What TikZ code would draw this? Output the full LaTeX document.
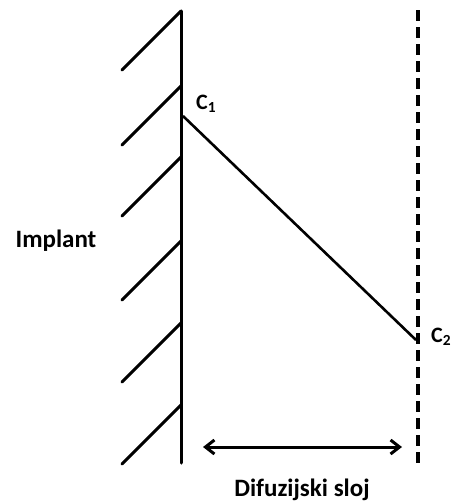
\documentclass[tikz,border=0pt]{standalone}
\usepackage{fontspec}
\setmainfont{Carlito}
\usetikzlibrary{arrows.meta}
\begin{document}
\begin{tikzpicture}[x=1pt,y=-1pt,
  wall/.style={line width=3pt,line cap=round},
  hatch/.style={line width=3pt,line cap=round},
  lbl/.style={font=\fontsize{25}{30}\selectfont\bfseries,inner sep=0pt},
  lblc/.style={font=\fontsize{22}{26}\selectfont\bfseries,inner sep=0pt}]
\useasboundingbox (0,0) rectangle (456,504);
\coordinate (wtop) at (181,11);
\coordinate (wbot) at (181,463);
\draw[wall] (wtop) -- (wbot);
\foreach \y [count=\i] in {11,86,157,241,323,405}{
  \coordinate (h\i a) at (181,\y);
  \coordinate (h\i b) at (122,\y+59);
  \draw[hatch] (h\i a) -- (h\i b);
}
\coordinate (c1p) at (183,116);
\coordinate (c2p) at (416,340);
\draw[line width=2.6pt] (c1p) -- (c2p);
\coordinate (dtop) at (418,10);
\coordinate (dbot) at (418,466);
\draw[line width=3.2pt,dash pattern=on 11pt off 6pt] (dtop) -- (dbot);
\coordinate (aL) at (203,447);
\coordinate (aR) at (402,447);
\draw[line width=3pt,{Straight Barb[length=9pt,width=14pt]}-{Straight Barb[length=9pt,width=14pt]}] (aL) -- (aR);
\node[lblc,anchor=west] (c1) at (196,104) {C\textsubscript{1}};
\node[lblc,anchor=west] (c2) at (431,337) {C\textsubscript{2}};
\node[lbl] (impl) at (56,241) {Implant};
\node[lbl] (dif) at (302,490) {Difuzijski sloj};
\end{tikzpicture}
\end{document}
